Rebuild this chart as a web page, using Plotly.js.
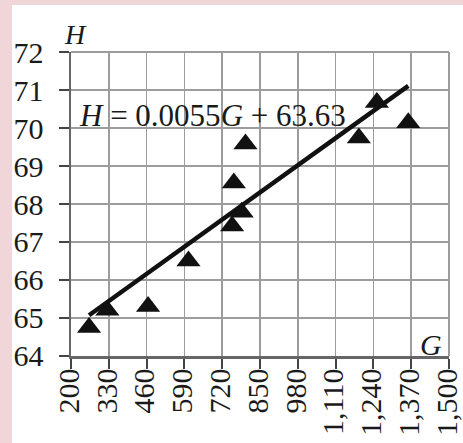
<!DOCTYPE html>
<html>
<head>
<meta charset="utf-8">
<script src="https://cdn.plot.ly/plotly-3.0.1.min.js"></script>
<style>
  html, body { margin: 0; padding: 0; background: #f0d6d9; }
  #chart { width: 463px; height: 443px; }
</style>
</head>
<body>
<div id="chart"></div>
<script>
// Data
var gValues = [262, 325, 465, 604, 754, 760, 787, 800, 1190, 1252, 1360];
var hValues = [64.75, 65.2, 65.3, 66.5, 67.42, 68.55, 67.78, 69.58, 69.74, 70.67, 70.14];

// Trend line coefficients shown on the chart: H = slope*G + intercept
var trendSlope = 0.0055;
var trendIntercept = 63.63;

// Axis ticks
var xTickVals = [200, 330, 460, 590, 720, 850, 980, 1110, 1240, 1370, 1500];
var xTickText = ['200', '330', '460', '590', '720', '850', '980', '1,110', '1,240', '1,370', '1,500'];
var yTickVals = [64, 65, 66, 67, 68, 69, 70, 71, 72];

var gMin = Math.min.apply(null, gValues);
var gMax = Math.max.apply(null, gValues);
var trendX = [gMin, gMax];
var trendY = trendX.map(function (g) { return trendSlope * g + trendIntercept; });

var serif = 'Liberation Serif, Times New Roman, serif';

var traces = [
  {
    x: trendX, y: trendY, type: 'scatter', mode: 'lines',
    line: { color: '#111111', width: 4.5 },
    hoverinfo: 'skip', showlegend: false
  },
  {
    x: gValues, y: hValues, type: 'scatter', mode: 'markers',
    marker: { symbol: 'triangle-up', size: 21, color: '#111111' },
    showlegend: false
  }
];

var L = 71, R = 14, T = 52, B = 87;
var W = 463, Hh = 443;
var pw = W - L - R, ph = Hh - T - B;
function px(xp) { return (xp - L) / pw; }
function py(yp) { return (Hh - B - yp) / ph; }

var layout = {
  width: W, height: Hh,
  margin: { l: L, r: R, t: T, b: B, pad: 0 },
  paper_bgcolor: '#f0d6d9',
  plot_bgcolor: '#ffffff',
  showlegend: false,
  font: { family: serif, color: '#1a1a1a', size: 30 },
  xaxis: {
    range: [199.95, 1500.05], tickmode: 'array', tickvals: xTickVals, ticktext: xTickText,
    tickangle: -90, ticks: 'outside', ticklen: 10, tickwidth: 2, tickcolor: '#444444',
    ticklabelstandoff: -12, ticklabelshift: -2, ticklabeloverflow: 'allow',
    showgrid: true, gridcolor: '#9c9c9c', gridwidth: 1.5,
    showline: true, linecolor: '#666666', linewidth: 2.5,
    zeroline: false, automargin: false,
    tickfont: { family: serif, size: 30, color: '#1a1a1a' }
  },
  yaxis: {
    range: [63.999, 72.001], tickmode: 'array', tickvals: yTickVals,
    ticks: 'outside', ticklen: 10, tickwidth: 2, tickcolor: '#444444',
    ticklabelstandoff: 9, ticklabeloverflow: 'allow',
    showgrid: true, gridcolor: '#9c9c9c', gridwidth: 1.5,
    showline: true, linecolor: '#666666', linewidth: 2.5,
    zeroline: false, automargin: false,
    tickfont: { family: serif, size: 30, color: '#1a1a1a' }
  },
  shapes: [
    {
      type: 'rect', xref: 'paper', yref: 'paper', layer: 'below',
      x0: px(12), x1: px(470), y0: py(450), y1: py(5),
      fillcolor: '#ffffff', line: { width: 0 }
    },
    {
      type: 'line', xref: 'paper', yref: 'paper', layer: 'below',
      x0: 0, x1: 1, y0: 1, y1: 1, line: { color: '#9c9c9c', width: 2 }
    },
    {
      type: 'line', xref: 'paper', yref: 'paper', layer: 'below',
      x0: 1, x1: 1, y0: 0, y1: 1, line: { color: '#9c9c9c', width: 2 }
    }
  ],
  annotations: [
    {
      text: '<i>H</i> = 0.0055<i>G</i> + 63.63', xref: 'x', yref: 'y',
      x: 222, y: 70.32, xanchor: 'left', yanchor: 'middle', showarrow: false,
      font: { family: serif, size: 31, color: '#1a1a1a' }
    },
    {
      text: '<i>H</i>', xref: 'paper', yref: 'paper',
      x: px(75), y: py(35), xanchor: 'center', yanchor: 'middle', showarrow: false,
      font: { family: serif, size: 28, color: '#1a1a1a' }
    },
    {
      text: '<i>G</i>', xref: 'paper', yref: 'paper',
      x: px(431), y: py(344), xanchor: 'center', yanchor: 'middle', showarrow: false,
      font: { family: serif, size: 30, color: '#1a1a1a' }
    }
  ]
};

Plotly.newPlot('chart', traces, layout, { staticPlot: true, displayModeBar: false });
</script>
</body>
</html>
